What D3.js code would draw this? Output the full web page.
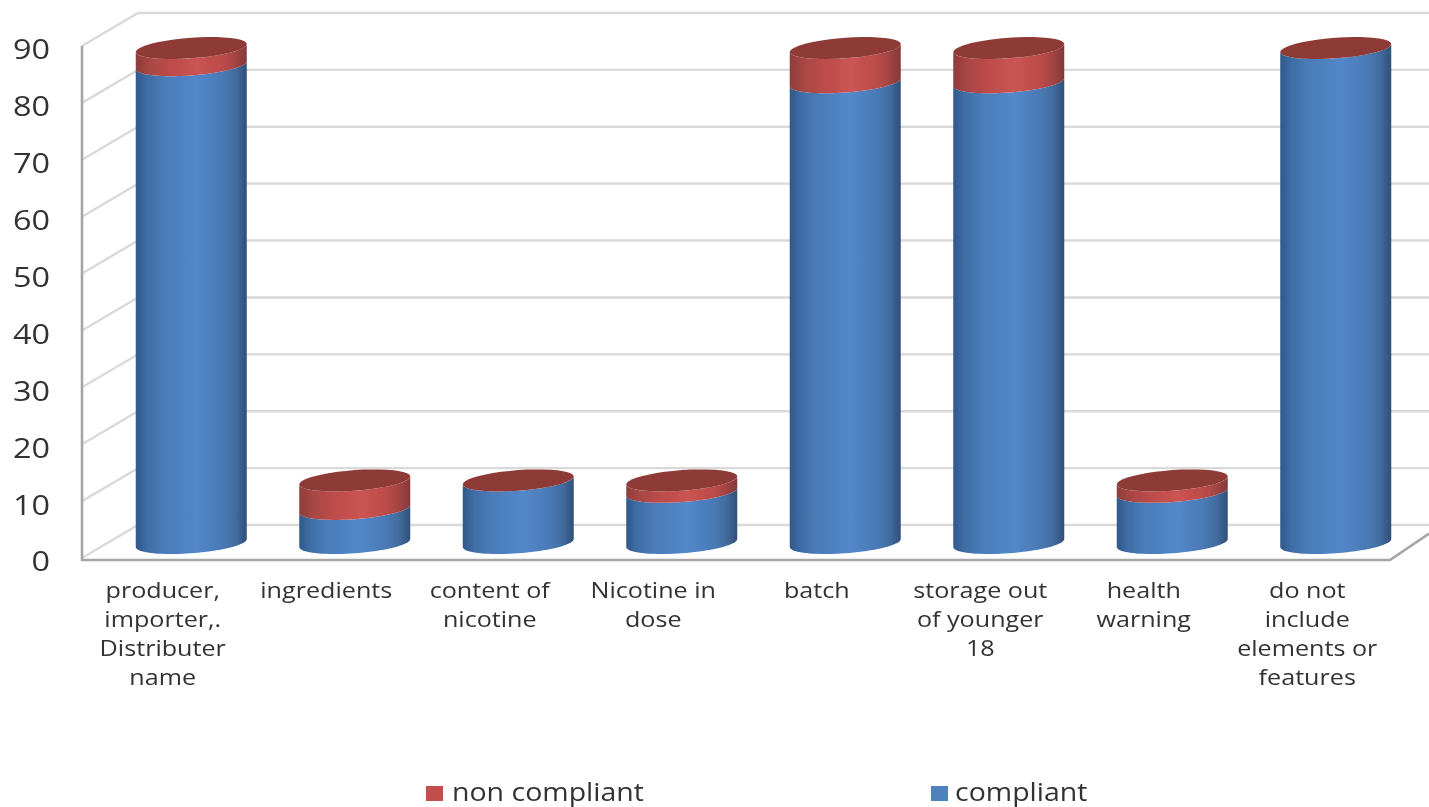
<!DOCTYPE html>
<html><head><meta charset="utf-8">
<script src="https://cdn.jsdelivr.net/npm/d3@7"></script>
<style>html,body{margin:0;padding:0;background:#fff;overflow:hidden}svg{display:block}text{font-family:"Open Sans","Noto Sans",sans-serif;fill:#333}</style>
</head><body><svg id="c" width="1429" height="807"></svg>
<script>
const categories=[["producer,","importer,.","Distributer","name"],["ingredients"],["content of","nicotine"],["Nicotine in","dose"],["batch"],["storage out","of younger","18"],["health","warning"],["do not","include","elements or","features"]];
const compliant=[84,6,11,9,81,81,9,87];
const nonCompliant=[3,5,0,2,6,6,2,0];
const yTicks=[0,10,20,30,40,50,60,70,80,90];
const legendLabels=["non compliant","compliant"];

const svg=d3.select("#c"),W=1429;
const x=d3.scaleBand().domain(d3.range(categories.length)).range([82,1390]).paddingInner(0).paddingOuter(0);
const y=d3.scaleLinear().domain([0,90]).range([558,46]);
const dx=56,dy=-33,rx=55.5,tilt=4,ry=10.3;
const cx=i=>x(i)+x.bandwidth()/2+dx/2-0.5;
const cy=v=>y(v)+dy/2+1.5;

const defs=svg.append("defs");
function grad(id,stops){const g=defs.append("linearGradient").attr("id",id).attr("x1",0).attr("x2",1).attr("y1",0).attr("y2",0);
 stops.forEach(s=>g.append("stop").attr("offset",s[0]).attr("stop-color",s[1]));}
grad("gb",[[0,"#30598a"],[.1,"#3f6da5"],[.25,"#4a7cb8"],[.55,"#5387ca"],[.78,"#4a7ab6"],[.9,"#426c9f"],[1,"#2f5077"]]);
grad("gr",[[0,"#8e3d3b"],[.12,"#a84644"],[.3,"#bc4c4a"],[.55,"#cb5452"],[.78,"#bc4c4a"],[.9,"#a34442"],[1,"#83383a"]]);
const bl=defs.append("filter").attr("id","soft").attr("x","-5%").attr("y","-5%").attr("width","110%").attr("height","110%");
bl.append("feGaussianBlur").attr("stdDeviation",0.6);

const root=svg.append("g").attr("filter","url(#soft)");
const grid=root.append("g").attr("fill","none").attr("stroke","#d9d9d9").attr("stroke-width",2.4);
yTicks.forEach(t=>{
 grid.append("path").attr("d",d3.line()([[x.range()[0],y(t)],[x.range()[0]+dx,y(t)+dy],[W,y(t)+dy]]));
});
root.append("path").attr("fill","none").attr("stroke","#a6a6a6").attr("stroke-width",2.6)
 .attr("d",d3.line()([[x.range()[0],y(90)],[x.range()[0],y(0)+2],[x.range()[1],y(0)+2],[W,y(0)+2+dy*0.8]]));

const pts=(v,i,a,b)=>d3.range(0,41).map(k=>{const t=a+(b-a)*k/40;return [cx(i)+rx*Math.cos(t),cy(v)-tilt*Math.cos(t)+ry*Math.sin(t)];});
const ln=d3.line();
function body(i,v0,v1,fill){
 const lower=pts(v0,i,Math.PI,0);
 const upper=pts(v1,i,0,Math.PI);
 root.append("path").attr("d",ln(lower.concat(upper))+"Z").attr("fill",fill);
}
categories.forEach((c,i)=>{
 const a=compliant[i],b=nonCompliant[i];
 body(i,0,a,"url(#gb)");
 if(b>0) body(i,a,a+b,"url(#gr)");
 root.append("path").attr("d",ln(pts(a+b,i,0,2*Math.PI))+"Z").attr("fill","#8e3a38");
});

// The reference is stretched horizontally, so text is widened about its anchor.
const wide=(sel,px,k)=>sel.attr("transform",`translate(${px},0) scale(${k},1)`).attr("x",0);

const tl=root.append("g").attr("font-size",27).attr("text-anchor","end");
yTicks.forEach(t=>wide(tl.append("text").attr("y",y(t)+13.5).text(t),50,1.2));
const cl=root.append("g").attr("font-size",21.5).attr("text-anchor","middle");
categories.forEach((c,i)=>{
 const px=x(i)+x.bandwidth()/2-1;
 c.forEach((l,k)=>wide(cl.append("text").attr("y",598+k*29).text(l),px,1.17));
});
const lg=root.append("g").attr("font-size",25);
[[426,"#c0504d",452],[931,"#4f81bd",955]].forEach((d,i)=>{
 lg.append("rect").attr("x",d[0]).attr("y",786).attr("width",17).attr("height",15).attr("fill",d[1]);
 wide(lg.append("text").attr("y",801).text(legendLabels[i]),d[2],1.14);
});
</script></body></html>
